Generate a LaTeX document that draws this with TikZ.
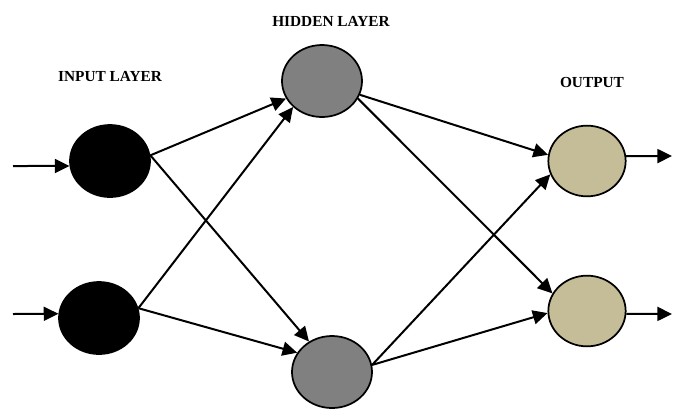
\documentclass[tikz,border=0pt]{standalone}
\usepackage{fontspec}
\setmainfont{Liberation Serif}
\usepackage{tikz}
\usetikzlibrary{arrows.meta,shapes.geometric}

\definecolor{hiddengray}{RGB}{128,128,128}
\definecolor{outputtan}{RGB}{196,189,151}

\begin{document}
\begin{tikzpicture}[x=0.75pt,y=-0.75pt,>={Triangle[length=11pt,width=10.5pt]},line width=1.5pt]
		\tikzstyle{neuron}=[ellipse, draw=black, line width=1.3pt, minimum width=60pt, minimum height=54pt, inner sep=0pt]
		\tikzstyle{input}=[neuron, fill=black]
		\tikzstyle{hidden}=[neuron, fill=hiddengray]
		\tikzstyle{output}=[neuron, fill=outputtan, minimum width=58pt, minimum height=53pt]
		\tikzstyle{layer}=[font=\fontsize{11.5pt}{13pt}\selectfont\bfseries]

		\useasboundingbox (0,0) rectangle (678,412);

		% layer titles
		\node [layer] (tin) at (110,77) {INPUT LAYER};
		\node [layer] (thid) at (331,21) {HIDDEN LAYER};
		\node [layer] (tout) at (592,82) {OUTPUT};

		% neurons
		\node [input] (i1) at (110,161) {};
		\node [input] (i2) at (99,318) {};
		\node [hidden] (h1) at (322,81) {};
		\node [hidden] (h2) at (332,372) {};
		\node [output] (o1) at (587,161) {};
		\node [output] (o2) at (587,311) {};

		\coordinate (x1) at (13,166);
		\coordinate (x2) at (13,314);
		\coordinate (y1) at (672,156);
		\coordinate (y2) at (672,314);

		% inputs
		\draw [->] (x1) -- (i1.187);
		\draw [->] (x2) -- (i2.174);
		% input -> hidden
		\draw [->] (i1.8) -- (h1.206);
		\draw [->] (i1.8) -- (h2.127);
		\draw [->] (i2.14) -- (h1.222);
		\draw [->] (i2.14) -- (h2.151);
		% hidden -> output
		\draw [->] (h1.340) -- (o1.171);
		\draw [->] (h1.334) -- (o2.153);
		\draw [->] (h2.10) -- (o1.200);
		\draw [->] (h2.10) -- (o2.183);
		% outputs
		\draw [->] (o1.7) -- (y1);
		\draw [->] (o2.356) -- (y2);
	\end{tikzpicture}
\end{document}
